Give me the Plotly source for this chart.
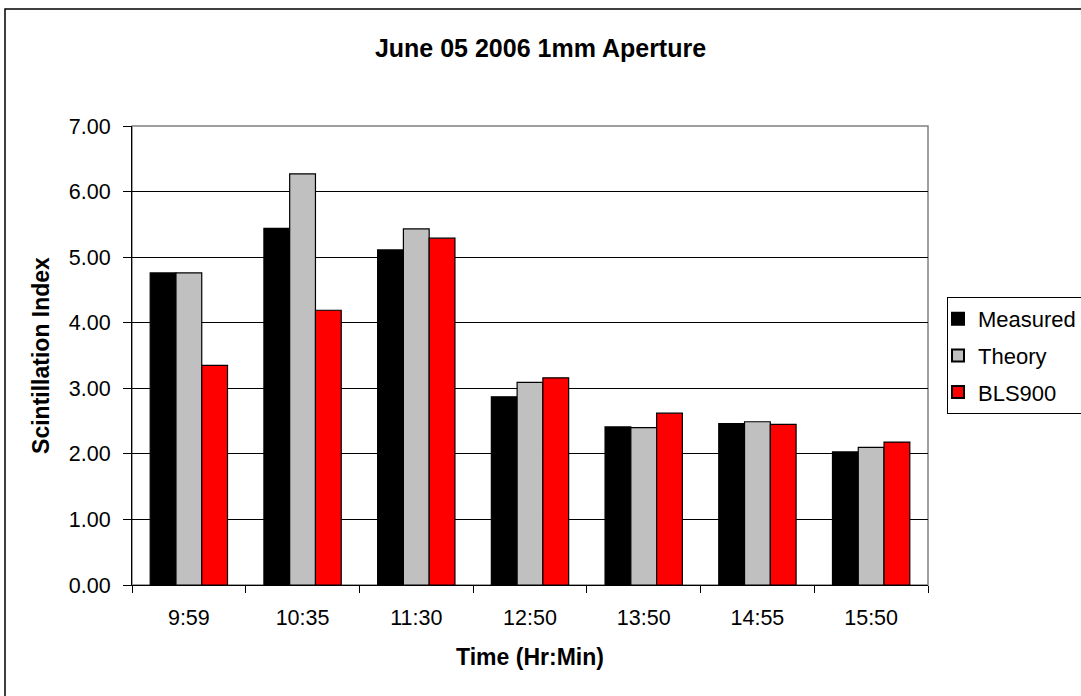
import plotly.graph_objects as go

times = ["9:59", "10:35", "11:30", "12:50", "13:50", "14:55", "15:50"]
measured = [4.76, 5.44, 5.11, 2.87, 2.41, 2.46, 2.03]
theory = [4.76, 6.27, 5.43, 3.09, 2.40, 2.49, 2.10]
bls900 = [3.35, 4.19, 5.29, 3.16, 2.62, 2.45, 2.18]

FONT = "Liberation Sans, Arial, sans-serif"

fig = go.Figure()
for name, vals, color in [("Measured", measured, "#000000"),
                          ("Theory", theory, "#C0C0C0"),
                          ("BLS900", bls900, "#FF0000")]:
    fig.add_trace(go.Bar(
        x=times, y=vals, name=name, legendgroup=name,
        marker=dict(color=color, line=dict(color="#000000", width=1.2)),
    ))

fig.update_layout(
    width=1081, height=696,
    margin=dict(l=132, r=153, t=126, b=111, autoexpand=False),
    paper_bgcolor="white", plot_bgcolor="white",
    barmode="group", bargap=0.32, bargroupgap=0,
    font=dict(family=FONT, size=21.5, color="black"),
    title=dict(text="<b>June 05 2006 1mm Aperture</b>", x=0.5, xanchor="center",
               y=0.930, yanchor="middle", font=dict(size=25, family=FONT)),
    legend=dict(x=(947 - 132) / 796, y=(585 - 297) / 459, xanchor="left", yanchor="top",
                bordercolor="black", borderwidth=1, bgcolor="white",
                font=dict(size=22, family=FONT), tracegroupgap=5,
                indentation=-10, itemsizing="constant"),
    xaxis=dict(title=dict(text="<b>Time (Hr:Min)</b>", font=dict(size=23), standoff=20),
               showline=True, linecolor="black", linewidth=1,
               ticks="outside", ticklen=7, tickcolor="black", tickson="boundaries",
               ticklabelstandoff=13,
               showgrid=False, tickfont=dict(size=21.5)),
    yaxis=dict(title=dict(text="<b>Scintillation Index</b>", font=dict(size=23), standoff=12),
               range=[0, 7], dtick=1, tickformat=".2f",
               showline=True, linecolor="black", linewidth=1,
               ticks="outside", ticklen=8, tickcolor="black", ticklabelstandoff=8,
               showgrid=True, gridcolor="black", gridwidth=1,
               tickfont=dict(size=21.5), zeroline=False),
    shapes=[
        # plot area frame
        dict(type="rect", xref="paper", yref="paper", x0=0, x1=1, y0=0, y1=1,
             line=dict(color="#808080", width=1.5), layer="below"),
        # outer chart frame (runs off the right and bottom edges)
        dict(type="rect", xref="paper", yref="paper",
             x0=(5 - 132) / 796, x1=(1090 - 132) / 796,
             y0=(585 - 705) / 459, y1=(585 - 9) / 459,
             line=dict(color="black", width=1.5)),
    ],
)

fig.write_html("out.html")
